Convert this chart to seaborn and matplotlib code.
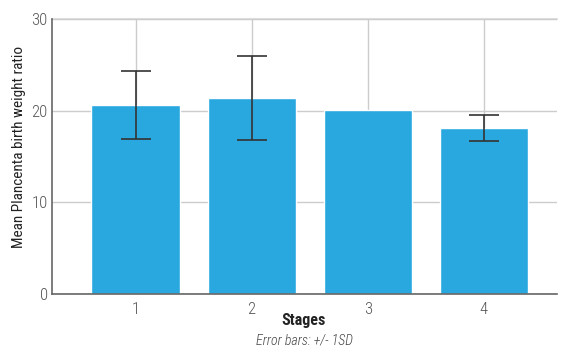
import matplotlib
matplotlib.use("Agg")
import matplotlib.pyplot as plt
import seaborn as sns
import pandas as pd
import numpy as np
from matplotlib import font_manager

stages = ["1", "2", "3", "4"]
means = [20.6, 21.4, 20.1, 18.1]
sds = [3.7, 4.6, 0.0, 1.4]
yticks = [0, 10, 20, 30]

sns.set_theme(style="white")
names = {f.name for f in font_manager.fontManager.ttflist}
cands = ["Liberation Sans Narrow", "Roboto Condensed", "Open Sans Condensed", "DejaVu Sans"]
fam = next(c for c in cands if c in names)
plt.rcParams['font.family'] = [fam, 'DejaVu Sans']
plt.rcParams['font.stretch'] = 'condensed'

df = pd.DataFrame({"Stage": stages, "Mean": means, "SD": sds})

fig = plt.figure(figsize=(5.62, 3.49), dpi=100)
ax = fig.add_axes([0.0925, 0.1576, 0.8985, 0.788])
sns.barplot(data=df, x="Stage", y="Mean", color="#29A8E0", width=0.76,
            saturation=1, errorbar=None, ax=ax, zorder=2)
pos = np.arange(len(stages))
mask = np.array(sds) > 0
ax.errorbar(pos[mask], np.array(means)[mask], yerr=np.array(sds)[mask],
            fmt="none", ecolor="#333333", elinewidth=1.2, capsize=10.5, capthick=1.2, zorder=3)

ax.set_ylim(0, 30)
ax.set_xlim(-0.72, 3.63)
ax.set_yticks(yticks)
ax.grid(True, color="#cccccc", linewidth=1, zorder=0)
ax.set_axisbelow(True)
for s in ["top", "right"]:
    ax.spines[s].set_visible(False)
ax.axhline(30, color="#dddddd", linewidth=1.5, zorder=0, clip_on=False)
for s in ["left", "bottom"]:
    ax.spines[s].set_color("#666666")
    ax.spines[s].set_linewidth(1.2)
ax.tick_params(axis="both", colors="#555555", labelsize=12, length=0)
ax.tick_params(axis="x", pad=6)
ax.tick_params(axis="y", pad=3)
for lab in ax.get_xticklabels() + ax.get_yticklabels():
    lab.set_fontweight("light")
ax.set_ylabel("Mean Plancenta birth weight ratio", fontsize=11, color="#222222")
ax.yaxis.set_label_coords(-0.052, 0.535)
ax.set_xlabel("")
fig.text(0.541, 0.083, "Stages", ha="center", va="center",
         fontsize=11.5, fontweight="semibold", color="#222222")
fig.text(0.541, 0.023, "Error bars: +/- 1SD", ha="center", va="center",
         fontsize=10, style="italic", fontweight="light", color="#444444")
fig.savefig("out.png", dpi=100)
